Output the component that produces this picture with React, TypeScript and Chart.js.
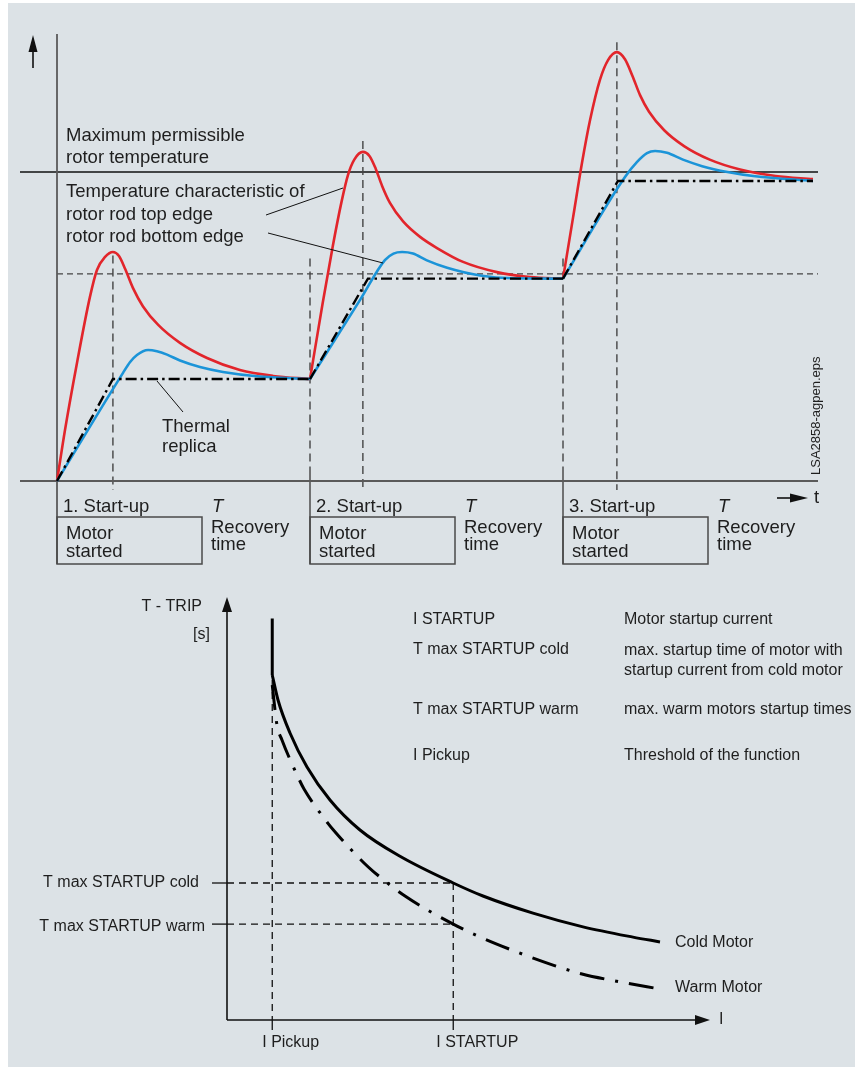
import React, { useEffect, useRef } from "react";
import { Chart, registerables } from "chart.js";

Chart.register(...registerables);

const FONT = '"Liberation Sans", Arial, Helvetica, sans-serif';
const BG = "#dce2e6";
const TXT = "#1e1e1e";

// ---------------- Top chart: rotor temperature vs time ----------------
// time in arbitrary units (start-ups at 0, 10, 20); temperature in % of max permissible
const startTimes = [0, 10, 20];
const startLabels = ["1. Start-up", "2. Start-up", "3. Start-up"];
const peakTimes = [2.21, 12.09, 22.13];
const peakMarkerTops = [73, 110, 142];
const maxPermissibleTemp = 100;
const dashedLevelTemp = 67;

// rotor rod top edge (red)
const redT1 = [0, 0.316, 0.79, 1.3, 1.58, 1.9, 2.21, 2.45, 2.7, 3.0, 3.4, 4.0, 4.86, 5.93, 7.23, 8.54, 10];
const redV1 = [0, 16.5, 38.2, 59.5, 68.3, 72.5, 74.1, 72.8, 68.5, 62.5, 56.5, 50.5, 44.7, 39.8, 35.9, 34.0, 33.0];
const redT2 = [10, 10.5, 10.9, 11.25, 11.5, 11.75, 12.09, 12.35, 12.6, 12.85, 13.16, 13.68, 14.35, 15.02, 16.05, 17.39, 18.7, 20];
const redV2 = [33.0, 57.5, 76.0, 90.5, 99.0, 104.0, 106.5, 105.2, 101.0, 95.5, 90.0, 84.0, 79.0, 75.4, 70.9, 67.6, 66.0, 65.5];
const redT3 = [20, 20.4, 20.75, 21.07, 21.46, 21.78, 22.13, 22.45, 22.75, 23.05, 23.4, 24.0, 24.8, 25.8, 27.0, 28.4, 29.88];
const redV3 = [65.5, 85.4, 102.9, 116.8, 129.8, 136.2, 138.8, 136.5, 131.0, 124.8, 119.5, 113.5, 108.3, 104.0, 100.8, 98.7, 97.7];

// rotor rod bottom edge (blue)
const blueT1 = [0, 2.61, 2.89, 3.16, 3.6, 3.95, 4.35, 4.86, 5.65, 6.56, 7.91, 10];
const blueV1 = [0, 35.0, 38.5, 40.8, 42.4, 42.0, 40.9, 39.0, 36.9, 35.3, 33.9, 33.0];
const blueT2 = [10, 11.98, 12.96, 13.3, 13.64, 14.07, 14.62, 15.42, 16.72, 18.02, 20];
const blueV2 = [33.0, 58.6, 71.5, 73.6, 74.1, 73.6, 71.4, 69.0, 66.5, 65.6, 65.5];
const blueT3 = [20, 22.45, 22.92, 23.32, 23.64, 24.11, 24.74, 25.5, 26.5, 27.6, 29.88];
const blueV3 = [65.5, 98.4, 103.2, 106.1, 106.8, 106.2, 104.0, 101.9, 100.0, 98.6, 97.1];

// thermal replica (black dash-dot)
const replicaT1 = [0, 2.21, 10];
const replicaV1 = [0, 33.0, 33.0];
const replicaT2 = [10, 12.29, 20];
const replicaV2 = [33.0, 65.5, 65.5];
const replicaT3 = [20, 22.17, 29.88];
const replicaV3 = [65.5, 97.1, 97.1];

// ---------------- Bottom chart: trip time vs current ----------------
const iPickup = 1;
const iStartup = 5;
const tMaxCold = 10;
const tMaxWarm = 7;

const coldVertI = [1, 1];
const coldVertT = [29.3, 25.18];
const coldI = [1, 1.127, 1.392, 1.768, 2.276, 2.939, 3.823, 5.0, 5.657, 6.762, 7.867, 8.972, 9.569];
const coldT = [25.18, 23.36, 20.95, 18.47, 16.06, 13.87, 11.95, 10.0, 9.05, 7.8, 6.8, 6.05, 5.7];
const warmI = [1, 1.105, 1.215, 1.569, 1.702, 2.21, 2.409, 3.028, 3.249, 3.934, 5.0, 5.591, 6.409, 7.204, 7.845, 8.707, 9.569];
const warmT = [24.45, 21.53, 20.44, 17.74, 16.86, 14.45, 13.65, 11.46, 10.8, 9.05, 7.0, 6.06, 4.96, 4.01, 3.36, 2.77, 2.26];

const legendKeys = ["I STARTUP", "T max STARTUP cold", "T max STARTUP warm", "I Pickup"];
const legendTexts = [
  ["Motor startup current"],
  ["max. startup time of motor with", "startup current from cold motor"],
  ["max. warm motors startup times"],
  ["Threshold of the function"],
];

const pts = (xs: number[], ys: number[]) => xs.map((x, i) => ({ x, y: ys[i] }));

function seg(ctx: CanvasRenderingContext2D, x1: number, y1: number, x2: number, y2: number, color: string, width: number, dash: number[] = []) {
  ctx.save();
  ctx.beginPath();
  ctx.setLineDash(dash);
  ctx.strokeStyle = color;
  ctx.lineWidth = width;
  ctx.moveTo(x1, y1);
  ctx.lineTo(x2, y2);
  ctx.stroke();
  ctx.restore();
}

function head(ctx: CanvasRenderingContext2D, tx: number, ty: number, dir: "up" | "right", len: number, half: number, color: string) {
  ctx.save();
  ctx.fillStyle = color;
  ctx.beginPath();
  if (dir === "up") {
    ctx.moveTo(tx, ty);
    ctx.lineTo(tx - half, ty + len);
    ctx.lineTo(tx + half, ty + len);
  } else {
    ctx.moveTo(tx, ty);
    ctx.lineTo(tx - len, ty - half);
    ctx.lineTo(tx - len, ty + half);
  }
  ctx.closePath();
  ctx.fill();
  ctx.restore();
}

function txt(ctx: CanvasRenderingContext2D, s: string, x: number, y: number, size: number, opts: { align?: CanvasTextAlign; base?: CanvasTextBaseline; italic?: boolean; color?: string } = {}) {
  ctx.save();
  ctx.font = `${opts.italic ? "italic " : ""}${size}px ${FONT}`;
  ctx.fillStyle = opts.color || TXT;
  ctx.textAlign = opts.align || "left";
  ctx.textBaseline = opts.base || "alphabetic";
  ctx.fillText(s, x, y);
  ctx.restore();
}

const topOverlay = {
  id: "topOverlay",
  beforeDatasetsDraw(chart: any) {
    const ctx = chart.ctx as CanvasRenderingContext2D;
    const X = (v: number) => chart.scales.x.getPixelForValue(v);
    const Y = (v: number) => chart.scales.y.getPixelForValue(v);
    seg(ctx, 20, Y(maxPermissibleTemp), 818, Y(maxPermissibleTemp), "#111", 1.3);
    seg(ctx, X(0), Y(dashedLevelTemp), 818, Y(dashedLevelTemp), "#444", 1.2, [6, 4]);
    peakTimes.forEach((p, i) => {
      seg(ctx, X(p), Y(peakMarkerTops[i]), X(p), Y(0) + 9, "#444", 1.4, [8, 5]);
    });
    startTimes.forEach((s, i) => {
      if (i === 0) return;
      seg(ctx, X(s), Y(72), X(s), Y(0) - 11, "#444", 1.4, [8, 5]);
      seg(ctx, X(s), Y(0) - 11, X(s), 564, "#555", 1.6);
    });
    seg(ctx, 20, Y(0), 818, Y(0), "#5a5a5a", 2);
    seg(ctx, X(0), 34, X(0), 564, "#5a5a5a", 1.8);
  },
  afterDatasetsDraw(chart: any) {
    const ctx = chart.ctx as CanvasRenderingContext2D;
    const X = (v: number) => chart.scales.x.getPixelForValue(v);
    const F = 18.5;
    seg(ctx, 33, 50, 33, 68, "#111", 1.6);
    head(ctx, 33, 35, "up", 17, 4.5, "#111");
    seg(ctx, 777, 498, 795, 498, "#111", 1.6);
    head(ctx, 808, 498, "right", 18, 4.5, "#111");
    txt(ctx, "t", 814, 503, F);
    txt(ctx, "Maximum permissible", 66, 141, F);
    txt(ctx, "rotor temperature", 66, 163, F);
    txt(ctx, "Temperature characteristic of", 66, 197, F);
    txt(ctx, "rotor rod top edge", 66, 220, F);
    txt(ctx, "rotor rod bottom edge", 66, 242, F);
    txt(ctx, "Thermal", 162, 432, F);
    txt(ctx, "replica", 162, 452, F);
    seg(ctx, 266, 215, 343, 188, "#111", 1);
    seg(ctx, 268, 233, 383, 263, "#111", 1);
    seg(ctx, 157, 381, 183, 412, "#111", 1);
    ctx.save();
    ctx.translate(820, 475);
    ctx.rotate(-Math.PI / 2);
    txt(ctx, "LSA2858-agpen.eps", 0, 0, 13);
    ctx.restore();
    startTimes.forEach((s, i) => {
      const x0 = X(s);
      txt(ctx, startLabels[i], x0 + 6, 512, F);
      txt(ctx, "T", x0 + 155, 512, F, { italic: true });
      txt(ctx, "Recovery", x0 + 154, 533, F);
      txt(ctx, "time", x0 + 154, 550, F);
      ctx.save();
      ctx.strokeStyle = "#4a4a4a";
      ctx.lineWidth = 1.5;
      ctx.strokeRect(x0, 517, 145, 47);
      ctx.restore();
      txt(ctx, "Motor", x0 + 9, 539, F);
      txt(ctx, "started", x0 + 9, 557, F);
    });
  },
};

const OFF = 580;
const bottomOverlay = {
  id: "bottomOverlay",
  beforeDatasetsDraw(chart: any) {
    const ctx = chart.ctx as CanvasRenderingContext2D;
    const X = (v: number) => chart.scales.x.getPixelForValue(v);
    const Y = (v: number) => chart.scales.y.getPixelForValue(v);
    const dash = [7, 5];
    seg(ctx, X(iPickup), 620 - OFF, X(iPickup), Y(0), "#111", 1.3, dash);
    seg(ctx, X(iPickup), Y(0), X(iPickup), Y(0) + 10, "#111", 1.3);
    seg(ctx, X(iStartup), Y(tMaxCold), X(iStartup), Y(0), "#111", 1.3, dash);
    seg(ctx, X(iStartup), Y(0), X(iStartup), Y(0) + 10, "#111", 1.3);
    [tMaxCold, tMaxWarm].forEach((t) => {
      seg(ctx, X(0) - 15, Y(t), X(0), Y(t), "#111", 1.3);
      seg(ctx, X(0), Y(t), X(iStartup), Y(t), "#111", 1.3, dash);
    });
    seg(ctx, X(0), Y(0), X(0), 610 - OFF, "#111", 1.6);
    head(ctx, X(0), 597 - OFF, "up", 15, 5, "#111");
    seg(ctx, X(0), Y(0), 697, Y(0), "#111", 1.6);
    head(ctx, 710, Y(0), "right", 15, 5, "#111");
  },
  afterDatasetsDraw(chart: any) {
    const ctx = chart.ctx as CanvasRenderingContext2D;
    const X = (v: number) => chart.scales.x.getPixelForValue(v);
    const Y = (v: number) => chart.scales.y.getPixelForValue(v);
    const F = 16;
    const m = { base: "middle" as CanvasTextBaseline };
    txt(ctx, "I", 719, Y(0), F, m);
    txt(ctx, "T - TRIP", 202, 607 - OFF, F, { base: "middle", align: "right" });
    txt(ctx, "[s]", 210, 635 - OFF, F, { base: "middle", align: "right" });
    txt(ctx, "T max STARTUP cold", 199, Y(tMaxCold), F, { base: "middle", align: "right" });
    txt(ctx, "T max STARTUP warm", 205, Y(tMaxWarm) + 2, F, { base: "middle", align: "right" });
    txt(ctx, "I Pickup", X(iPickup) - 10, 1043 - OFF, F, m);
    txt(ctx, "I STARTUP", X(iStartup) - 17, 1043 - OFF, F, m);
    txt(ctx, "Cold Motor", 675, 943 - OFF, F, m);
    txt(ctx, "Warm Motor", 675, 988 - OFF, F, m);
    const keyY = [620, 650, 710, 756];
    legendKeys.forEach((k, i) => {
      txt(ctx, k, 413, keyY[i] - OFF, F, m);
      legendTexts[i].forEach((line, j) => {
        txt(ctx, line, 624, keyY[i] + (i === 1 ? 1 : 0) + j * 20 - OFF, F, m);
      });
    });
  },
};

const baseOptions = (xmin: number, xmax: number, ymin: number, ymax: number) => ({
  animation: false as const,
  responsive: false,
  maintainAspectRatio: false,
  devicePixelRatio: 1,
  events: [],
  layout: { padding: 0 },
  plugins: { legend: { display: false }, tooltip: { enabled: false }, title: { display: false } },
  elements: { point: { radius: 0 } },
  scales: {
    x: { type: "linear" as const, display: false, min: xmin, max: xmax },
    y: { type: "linear" as const, display: false, min: ymin, max: ymax },
  },
});

export default function App() {
  const topRef = useRef<HTMLCanvasElement>(null);
  const botRef = useRef<HTMLCanvasElement>(null);

  useEffect(() => {
    const red = "#e2252b";
    const blue = "#1b94d8";
    const replica = (d: any) => ({ data: d, borderColor: "#000", borderWidth: 2.4, borderDash: [11, 4, 2.5, 4], tension: 0, pointRadius: 0, fill: false });
    const smooth = (d: any, c: string) => ({ data: d, borderColor: c, borderWidth: 2.6, cubicInterpolationMode: "monotone", pointRadius: 0, fill: false });
    const top = new Chart(topRef.current!, {
      type: "line",
      data: {
        datasets: [
          replica(pts(replicaT1, replicaV1)),
          replica(pts(replicaT2, replicaV2)),
          replica(pts(replicaT3, replicaV3)),
          smooth(pts(blueT1, blueV1), blue),
          smooth(pts(blueT2, blueV2), blue),
          smooth(pts(blueT3, blueV3), blue),
          smooth(pts(redT1, redV1), red),
          smooth(pts(redT2, redV2), red),
          smooth(pts(redT3, redV3), red),
        ] as any,
      },
      options: baseOptions(-57 / 25.3, (860 - 57) / 25.3, -99 / 3.09, 481 / 3.09) as any,
      plugins: [topOverlay],
    });
    const bottom = new Chart(botRef.current!, {
      type: "line",
      data: {
        datasets: [
          { data: pts(coldVertI, coldVertT), borderColor: "#000", borderWidth: 3, tension: 0, pointRadius: 0 },
          { data: pts(coldI, coldT), borderColor: "#000", borderWidth: 3, cubicInterpolationMode: "monotone", pointRadius: 0 },
          { data: pts(warmI, warmT), borderColor: "#000", borderWidth: 3, borderDash: [25, 11, 3, 11], cubicInterpolationMode: "monotone", pointRadius: 0 },
        ] as any,
      },
      options: baseOptions(-227 / 45.25, (860 - 227) / 45.25, -50 / 13.7, 440 / 13.7) as any,
      plugins: [bottomOverlay],
    });
    return () => {
      top.destroy();
      bottom.destroy();
    };
  }, []);

  return (
    <div style={{ position: "absolute", left: 0, top: 0, width: 860, height: 1070, background: "#fff" }}>
      <div style={{ position: "absolute", left: 8, top: 3, width: 847, height: 1064, background: BG }} />
      <canvas ref={topRef} width={860} height={580} style={{ position: "absolute", left: 0, top: 0, width: 860, height: 580 }} />
      <canvas ref={botRef} width={860} height={490} style={{ position: "absolute", left: 0, top: 580, width: 860, height: 490 }} />
    </div>
  );
}
